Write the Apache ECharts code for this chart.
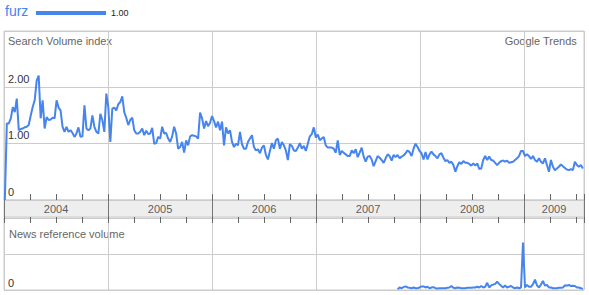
<!DOCTYPE html>
<html><head><meta charset="utf-8">
<script src="https://cdn.jsdelivr.net/npm/echarts@6/dist/echarts.min.js"></script>
<style>html,body{margin:0;padding:0;background:#fff}#c{width:589px;height:295px}</style>
</head><body><div id="c"></div>
<script>
const seriesName = 'furz';
const legendValue = '1.00';
const firstWeek = [2004, 0, 4];
const rangeStart = [2004, 0, 1];
const rangeEnd = [2009, 6, 30];
const years = ['2004', '2005', '2006', '2007', '2008', '2009'];
const searchTitle = 'Search Volume index';
const newsTitle = 'News reference volume';
const brand = 'Google Trends';

const searchVolume = [
  0.00,
  1.36,1.36,1.45,1.65,1.56,1.80,1.24,1.26,1.27,1.29,
  1.30,1.33,1.50,1.65,1.77,2.12,2.21,1.45,1.77,1.27,
  1.47,1.42,1.43,1.46,1.45,1.77,1.64,1.59,1.30,1.21,
  1.30,1.21,1.24,1.19,1.12,1.18,1.29,1.12,1.13,1.68,
  1.27,1.24,1.27,1.50,1.30,1.21,1.18,1.53,1.42,1.21,
  1.89,1.65,1.03,1.62,1.64,1.59,1.70,1.74,1.84,1.56,
  1.46,1.33,1.42,1.46,1.24,1.18,1.18,1.21,1.27,1.15,
  1.23,1.17,1.18,1.28,1.00,1.01,1.12,1.09,1.30,1.18,
  1.19,1.09,1.03,1.13,1.30,1.18,0.91,0.94,1.03,0.84,
  1.06,0.97,1.13,1.15,1.14,1.13,1.09,1.55,
  1.45,1.27,1.40,1.31,1.37,1.49,1.40,1.29,1.39,1.24,1.39,0.97,
  1.29,1.18,1.24,1.03,0.94,1.00,0.97,1.21,0.99,0.91,
  0.91,1.03,1.09,1.15,0.94,0.88,0.90,0.83,0.93,0.97,
  0.80,0.72,0.87,1.01,0.91,1.06,1.09,0.91,1.03,0.97,
  0.88,0.71,0.99,0.96,0.88,0.87,0.93,1.01,0.91,0.96,
  0.87,1.00,1.13,1.17,1.29,1.11,1.16,1.06,1.09,1.12,
  0.97,0.93,0.93,0.93,0.91,0.84,1.06,0.80,0.87,0.84,
  0.81,0.78,0.78,0.88,0.83,0.90,0.76,0.84,0.93,0.77,
  0.68,0.77,0.78,0.72,0.60,0.69,0.78,0.75,0.71,0.66,0.74,0.81,
  0.78,0.70,0.80,0.76,0.80,0.74,0.77,0.79,
  0.83,0.88,0.85,0.78,0.91,1.00,0.94,0.87,0.83,0.72,
  0.85,0.72,0.81,0.86,0.81,0.78,0.74,0.81,0.83,0.75,
  0.69,0.71,0.66,0.68,0.62,0.50,0.60,0.67,0.64,0.69,
  0.66,0.66,0.64,0.61,0.65,0.61,0.65,0.55,0.56,0.71,
  0.78,0.71,0.77,0.71,0.70,0.66,0.62,0.66,0.69,0.70,
  0.68,0.70,0.66,0.67,0.68,0.71,0.74,0.78,0.87,0.87,
  0.78,0.81,0.78,0.73,0.78,0.71,0.68,0.74,0.68,0.65,
  0.74,0.62,0.50,0.71,0.59,0.53,0.56,0.59,0.63,0.60,
  0.57,0.54,0.53,0.55,0.53,0.68,0.62,0.59,0.62,0.56
];

const newsStartWeek = 197;
const newsVolume = [
  0.02,0.07,0.05,0.08,0.10,0.07,0.06,0.05,0.07,0.05,
  0.05,0.07,0.10,0.10,0.07,0.09,0.05,0.07,0.08,0.05,
  0.04,0.05,0.05,0.05,0.05,0.06,0.07,0.11,0.06,0.05,
  0.07,0.06,0.05,0.05,0.05,0.06,0.06,0.06,0.07,0.07,
  0.09,0.07,0.11,0.07,0.09,0.20,0.07,0.13,0.15,0.17,
  0.23,0.17,0.12,0.07,0.13,0.07,0.09,0.11,0.07,0.05,
  0.07,0.05,0.07,1.32,0.07,0.14,0.09,0.09,0.16,0.29,
  0.13,0.07,0.15,0.25,0.12,0.14,0.07,0.07,0.05,0.05,
  0.05,0.06,0.06,0.07,0.13,0.12,0.14,0.11,0.12,0.11,
  0.07,0.07,0.05,0.03
];

function decYear(y, m, d) {
  const t = Date.UTC(y, m, d);
  const dt = new Date(t);
  const yy = dt.getUTCFullYear();
  const a = Date.UTC(yy, 0, 1), b = Date.UTC(yy + 1, 0, 1);
  return yy + (t - a) / (b - a);
}
function weekYear(w) { return decYear(firstWeek[0], firstWeek[1], firstWeek[2] + 7 * w); }

const xMin = decYear(rangeStart[0], rangeStart[1], rangeStart[2]);
const xMax = decYear(rangeEnd[0], rangeEnd[1], rangeEnd[2]);

const searchData = searchVolume.map((v, i) => [weekYear(i), v]);
const newsData = newsVolume.map((v, i) => [weekYear(newsStartWeek + i), v]);
const yearLabelData = years.map(y => {
  const s = +y, e = Math.min(s + 1, xMax);
  return { value: [(s + e) / 2, 0.5], label: { formatter: y } };
});

const FONT = '"Liberation Sans", Arial, sans-serif';
const BLUE = '#4684ee';
const GRID = '#cccccc';

const chart = echarts.init(document.getElementById('c'), null, { renderer: 'svg' });
const baseX = { type: 'value', min: xMin, max: xMax, interval: 1 };
chart.setOption({
  animation: false,
  grid: [
    { left: 4, top: 31, width: 580, height: 169, show: true, borderColor: GRID, borderWidth: 1 },
    { left: 4, top: 200, width: 580, height: 17, show: true, backgroundColor: '#eeeeee', borderColor: GRID, borderWidth: 1 },
    { left: 4, top: 218, width: 580, height: 72, show: true, borderColor: GRID, borderWidth: 1 }
  ],
  xAxis: [
    Object.assign({}, baseX, {
      gridIndex: 0, position: 'bottom',
      axisLine: { show: false }, axisLabel: { show: false },
      axisTick: { show: true, inside: true, length: 6, lineStyle: { color: '#666' } },
      minorTick: { show: true, splitNumber: 4, length: 6, lineStyle: { color: '#666' } },
      splitLine: { show: true, lineStyle: { color: GRID } }
    }),
    Object.assign({}, baseX, {
      gridIndex: 1, position: 'bottom',
      axisLine: { show: false }, axisLabel: { show: false },
      axisTick: { show: true, inside: false, length: 6, lineStyle: { color: '#666' } },
      minorTick: { show: true, splitNumber: 4, length: 6, lineStyle: { color: '#666' } },
      splitLine: { show: true, lineStyle: { color: '#777' } }
    }),
    Object.assign({}, baseX, {
      gridIndex: 2, position: 'bottom',
      axisLine: { show: false }, axisLabel: { show: false }, axisTick: { show: false },
      splitLine: { show: true, lineStyle: { color: GRID } }
    })
  ],
  yAxis: [
    {
      gridIndex: 0, type: 'value', min: 0, max: 3, interval: 1,
      axisLine: { show: false }, axisTick: { show: false },
      splitLine: { show: true, lineStyle: { color: GRID } },
      axisLabel: {
        inside: true, margin: 4, verticalAlign: 'bottom', padding: [0, 0, 3, 0],
        color: '#333', fontSize: 11, fontFamily: FONT,
        formatter: v => v === 0 ? '0' : (v >= 3 ? '' : v.toFixed(2))
      }
    },
    { gridIndex: 1, type: 'value', min: 0, max: 1, show: false },
    {
      gridIndex: 2, type: 'value', min: 0, max: 2, interval: 1,
      axisLine: { show: false }, axisTick: { show: false },
      splitLine: { show: true, lineStyle: { color: GRID } },
      axisLabel: {
        inside: true, margin: 4, verticalAlign: 'bottom', padding: [0, 0, 2, 0],
        color: '#333', fontSize: 11, fontFamily: FONT,
        formatter: v => v === 0 ? '0' : ''
      }
    }
  ],
  series: [
    {
      type: 'line', name: seriesName, xAxisIndex: 0, yAxisIndex: 0, data: searchData,
      symbol: 'none', lineStyle: { color: BLUE, width: 2 }, z: 5
    },
    {
      type: 'scatter', xAxisIndex: 1, yAxisIndex: 1, data: yearLabelData,
      symbolSize: 0, silent: true,
      label: { show: true, position: 'inside', color: '#333', fontSize: 11, fontFamily: FONT }
    },
    {
      type: 'line', name: seriesName + ' news', xAxisIndex: 2, yAxisIndex: 2, data: newsData,
      symbol: 'none', lineStyle: { color: BLUE, width: 2 }, z: 5
    }
  ],
  graphic: [
    { type: 'text', left: 5, top: 4, style: { text: seriesName, font: '14px ' + FONT, fill: BLUE } },
    { type: 'rect', shape: { x: 36, y: 11, width: 70, height: 4 }, style: { fill: BLUE } },
    { type: 'text', left: 111, top: 8, style: { text: legendValue, font: '9px ' + FONT, fill: '#222' } },
    { type: 'text', left: 8, top: 35, style: { text: searchTitle, font: '11px ' + FONT, fill: '#666' } },
    { type: 'text', right: 12, top: 35, style: { text: brand, font: '11px ' + FONT, fill: '#666' } },
    { type: 'text', left: 9, top: 228, style: { text: newsTitle, font: '11px ' + FONT, fill: '#666' } }
  ]
});
</script></body></html>
